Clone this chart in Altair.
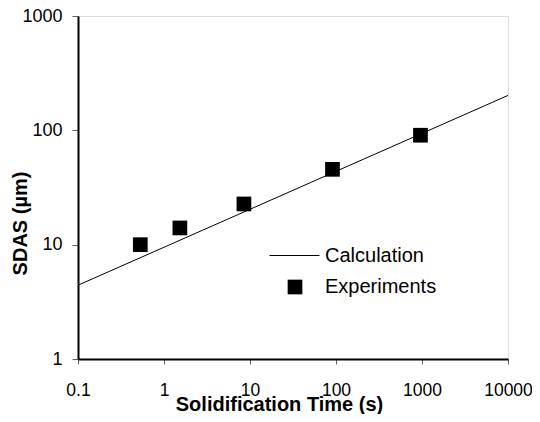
import altair as alt
import pandas as pd

# Calculation line (log-log straight line)
calc_time = [0.1, 10000]
calc_sdas = [4.42, 202]

# Experiments
exp_time = [0.53, 1.53, 8.5, 91, 960]
exp_sdas = [10.0, 14.0, 22.7, 45.6, 90.6]

x_ticks = [0.1, 1, 10, 100, 1000, 10000]
y_ticks = [1, 10, 100, 1000]

FONT = "Liberation Sans"

calc_df = pd.DataFrame({"t": calc_time, "s": calc_sdas, "series": ["Calculation"] * len(calc_time)})
exp_df = pd.DataFrame({"t": exp_time, "s": exp_sdas, "series": ["Experiments"] * len(exp_time)})

xscale = alt.Scale(type="log", domain=[0.1, 10000], nice=False)
yscale = alt.Scale(type="log", domain=[1, 1000], nice=False)

xaxis = alt.Axis(values=x_ticks, format="~g", grid=False, title="Solidification Time (s)",
                 titleFont=FONT, titleFontSize=20, titleFontWeight="bold", titleColor="black",
                 titleX=201, titleY=35, titleBaseline="top",
                 labelFont=FONT, labelFontSize=17.5, labelColor="black", labelPadding=17,
                 tickSize=5, tickColor="#666", tickWidth=1,
                 domainColor="black", domainWidth=2, labelFlush=False)
yaxis = alt.Axis(values=y_ticks, format="~g", grid=False, title="SDAS (µm)",
                 titleFont=FONT, titleFontSize=20, titleFontWeight="bold", titleColor="black",
                 titleX=-48, titleY=207, titleAngle=270, titleBaseline="bottom", titleAlign="center",
                 labelFont=FONT, labelFontSize=18, labelColor="black", labelPadding=10,
                 tickSize=6, tickColor="#666", tickWidth=1,
                 domainColor="black", domainWidth=2, labelFlush=False)

line = alt.Chart(calc_df).mark_line(strokeWidth=1, clip=True).encode(
    x=alt.X("t:Q", scale=xscale, axis=xaxis),
    y=alt.Y("s:Q", scale=yscale, axis=yaxis),
    color=alt.Color("series:N", scale=alt.Scale(domain=["Calculation"], range=["black"]),
                    legend=alt.Legend(orient="none", legendX=191, legendY=214, title=None, padding=0,
                                      symbolType="stroke", symbolSize=2500, symbolStrokeWidth=1,
                                      labelFont=FONT, labelFontSize=20, labelColor="black",
                                      labelOffset=5)),
)

points = alt.Chart(exp_df).mark_point(filled=True, shape="square", size=216, color="black", opacity=1).encode(
    x=alt.X("t:Q", scale=xscale),
    y=alt.Y("s:Q", scale=yscale),
    shape=alt.Shape("series:N", scale=alt.Scale(domain=["Experiments"], range=["square"]),
                    legend=alt.Legend(orient="none", legendX=207, legendY=261, title=None, padding=0,
                                      symbolSize=216, symbolFillColor="black", symbolStrokeColor="black",
                                      symbolStrokeWidth=0, symbolOpacity=1,
                                      labelFont=FONT, labelFontSize=20, labelColor="black",
                                      labelOffset=20)),
)

chart = alt.layer(line, points).resolve_legend(color="independent", shape="independent").properties(
    width=430, height=343,
    autosize=alt.AutoSizeParams(type="none"),
    padding={"left": 70, "top": 8, "right": 24, "bottom": 55},
).configure_view(stroke="black", strokeWidth=2).configure(background="white")

chart.save("out.html", embed_options={"renderer": "svg", "actions": False})
